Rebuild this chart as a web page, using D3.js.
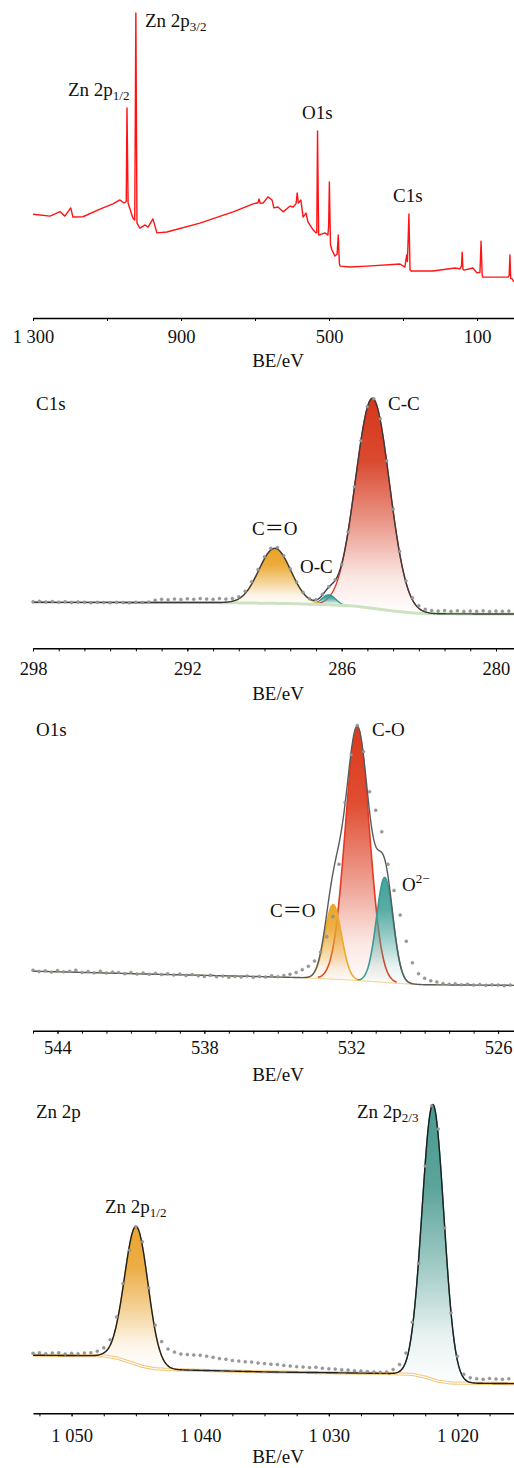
<!DOCTYPE html>
<html>
<head>
<meta charset="utf-8">
<script src="https://cdn.jsdelivr.net/npm/d3@7"></script>
<style>
  body { margin: 0; background: #fff; }
  svg { display: block; }
  text { font-family: "Liberation Serif", "Times New Roman", "Noto Sans CJK SC", serif; fill: #111; }
</style>
</head>
<body>
<div id="chart"></div>
<script>
// ---------- survey spectrum (BE in eV, intensity in a.u., 100 = tallest peak) ----------
const surveyBE = [1300, 1254, 1227, 1214, 1198, 1192, 1165, 1119, 1084, 1065, 1054, 1048, 1046, 1043,
  1030, 1025, 1022, 1019, 1011, 997, 989, 976, 965, 938, 849, 759, 705, 692, 689, 686, 678, 665, 654,
  649, 638, 624, 605, 597, 589, 586, 583, 576, 570, 562, 557, 543, 535, 533, 531, 528, 511, 503, 501,
  499, 496, 492, 484, 478, 475, 472, 470, 443, 397, 308, 295, 290, 288, 284, 281, 278, 219, 159, 146,
  142, 140, 138, 135, 111, 100, 92, 89, 86, 84, 24, 16, 13, 11, 9, 5, 0];
const surveyI = [34.0, 33.4, 34.9, 33.4, 36.1, 33.1, 33.2, 35.7, 37.4, 38.7, 37.7, 38.2, 68.9, 37.7,
  32.8, 32.1, 100, 31.1, 29.5, 30.5, 29.8, 32.5, 27.9, 28.2, 31.1, 34.8, 37.4, 37.8, 39.0, 37.6, 37.7, 39.7, 38.7,
  36.1, 36.4, 34.8, 36.7, 36.4, 37.5, 41.0, 37.7, 38.7, 33.1, 34.4, 31.5, 28.9, 27.9, 28.0, 61.3, 27.2, 27.9, 27.2, 30.0,
  44.6, 24.0, 22.3, 20.3, 21.0, 27.2, 18.0, 17.0, 16.7, 17.0, 17.7, 16.7, 20.7, 18.5, 34.1, 15.8, 15.4, 15.4, 16.4, 16.1,
  17.0, 21.6, 16.0, 15.7, 16.4, 14.8, 15.0, 25.2, 14.0, 13.4, 13.4, 13.4, 14.0, 20.7, 13.0, 12.8, 11.8];
const surveyTicks = [1300, 900, 500, 100];
const surveyMinor = [1300, 1100, 900, 700, 500, 300, 100];

// ---------- C1s ----------
const c1sStart = 298, c1sStep = 0.25;
const c1sData = [18.6, 18.8, 18.5, 18.7, 18.4, 18.6, 18.3, 18.5, 18.4, 18.2, 18.4, 18.3, 18.2, 18.4, 18.3,
  18.2, 18.4, 18.3, 18.5, 19.2, 19.6, 19.4, 19.7, 19.5, 19.8, 19.6, 19.9, 19.7, 19.6, 19.9, 19.7, 19.9,
  20.6, 22.8, 26.6, 31.5, 36.6, 40.0, 40.3, 37.0, 31.8, 26.5, 22.3, 19.8, 19.4, 21.6, 24.6, 27.4, 33.5,
  46.5, 64.6, 83.0, 96.6, 99.8, 91.8, 75.0, 55.6, 38.8, 27.0, 20.2, 17.0, 15.6, 15.1, 14.9, 15.1, 14.8,
  15.0, 14.7, 14.9, 14.8, 15.0, 14.7, 14.9, 14.8, 14.9];
const c1sBgBE = [298, 291, 288, 286.5, 285.5, 284.8, 284.0, 283.2, 282.5, 279.3];
const c1sBgI = [18.4, 18.3, 17.9, 17.4, 16.9, 16.0, 14.9, 14.1, 13.8, 13.7];
// fitted components: name, centre (eV), height above background, FWHM (eV)
const c1sNames = ["C-C", "O-C", "C\uFF1DO"];
const c1sCenter = [284.8, 286.5, 288.6];
const c1sHeight = [84.0, 4.0, 22.0];
const c1sFwhm = [1.55, 0.62, 1.45];
const c1sTicks = [298, 292, 286, 280];

// ---------- O1s ----------
const o1sStart = 545, o1sStep = 0.25;
const o1sData = [19.6, 19.2, 19.4, 19.0, 19.5, 19.1, 19.3, 19.6, 18.9, 19.2, 18.8, 19.3, 18.7, 19.0, 18.9,
  18.5, 18.9, 18.4, 18.7, 18.3, 18.6, 18.2, 18.5, 18.1, 18.4, 17.9, 18.2, 17.8, 17.6, 18.0, 17.5, 17.7,
  17.3, 17.6, 17.4, 17.7, 17.3, 17.6, 17.4, 17.8, 17.5, 17.9, 18.3, 18.9, 19.8, 20.9, 22.6, 25.5, 30.5,
  37.0, 54.0, 74.0, 89.5, 99.0, 90.5, 77.5, 71.5, 64.5, 54.0, 45.5, 37.5, 29.0, 22.0, 18.5, 17.0, 16.2,
  15.8, 15.3, 15.1, 15.2, 14.9, 15.1, 14.8, 15.0, 14.7, 14.9, 14.8, 14.6, 14.8];
const o1sBgBE = [545, 540, 536, 534, 532, 530, 529, 525.35];
const o1sBgI = [19.3, 18.3, 17.6, 17.2, 16.4, 15.3, 14.9, 14.7];
const o1sNames = ["C-O", "C\uFF1DO", "O"];
const o1sCenter = [531.75, 532.74, 530.63];
const o1sHeight = [82.0, 24.2, 34.0];
const o1sFwhm = [1.15, 0.8, 0.8];
const o1sTicks = [544, 538, 532, 526];

// ---------- Zn 2p ----------
const znStart = 1053, znStep = 0.5;
const znData = [19.4, 19.6, 19.3, 19.5, 19.6, 19.2, 19.4, 19.3, 19.5, 19.6, 20.1, 21.2, 23.8, 31.2, 42.0,
  52.8, 60.4, 55.5, 40.6, 28.5, 23.2, 20.8, 19.8, 19.2, 19.0, 18.9, 18.8, 18.5, 18.1, 17.7, 17.5, 17.1,
  16.9, 16.7, 16.6, 16.3, 16.1, 15.9, 15.8, 15.5, 15.3, 15.1, 15.0, 14.8, 14.9, 14.6, 14.4, 14.3, 14.1,
  14.0, 13.8, 13.7, 13.5, 13.4, 13.3, 13.4, 14.2, 15.8, 19.5, 29.5, 48.5, 80.0, 99.5, 92.0, 60.0, 32.5,
  18.5, 12.6, 11.5, 11.2, 11.0, 11.3, 11.1, 11.0, 11.2];
const znBgBE = [1053, 1047.5, 1046.5, 1045.5, 1044.5, 1043.5, 1042, 1035, 1025.5, 1023.5, 1022.5, 1021.5, 1020.5, 1015.6];
const znBgI = [18.8, 18.6, 17.9, 16.6, 15.2, 14.4, 14.1, 13.4, 12.9, 12.6, 11.7, 10.4, 9.8, 9.6];
const znNames = ["Zn 2p", "Zn 2p"];
const znCenter = [1021.9, 1044.97];
const znHeight = [89.0, 44.6];
const znFwhm = [2.0, 2.15];
const znTicks = [1050, 1040, 1030, 1020];

// ---------- setup ----------
const W = 514, H = 1468;
const svg = d3.select("#chart").append("svg").attr("width", W).attr("height", H);
const defs = svg.append("defs");
const left = 33, right = 514;

function gauss(E, c, h, fwhm) {
  const s = fwhm / 2.3548;
  return h * Math.exp(-((E - c) * (E - c)) / (2 * s * s));
}

// thousands written with a space, as in the figure ("1 050")
function fmtBE(v) {
  const s = String(v);
  return s.length > 3 ? s.slice(0, s.length - 3) + " " + s.slice(-3) : s;
}

function drawAxis(g, x, axisY, major, minor, pad, labelY) {
  g.append("g")
    .attr("transform", "translate(0," + axisY + ")")
    .call(d3.axisBottom(x).tickValues(minor).tickSize(3).tickSizeOuter(0).tickFormat(""))
    .call(a => a.select(".domain").attr("stroke-width", 1.4));
  const ax = g.append("g")
    .attr("transform", "translate(0," + axisY + ")")
    .call(d3.axisBottom(x).tickValues(major).tickSize(3).tickSizeOuter(0).tickPadding(pad).tickFormat(fmtBE));
  ax.select(".domain").remove();
  ax.selectAll("text").style("font-size", "18.5px").style("font-family", "Liberation Serif").attr("fill", "#111");
  g.append("text").attr("x", 278).attr("y", labelY).attr("text-anchor", "middle")
    .style("font-size", "19px").text("BE/eV");
}

function addLabel(g, px, py, main, sub, sup) {
  const t = g.append("text").attr("x", px).attr("y", py).style("font-size", "19px");
  t.append("tspan").text(main);
  if (sub) t.append("tspan").attr("dy", 4).style("font-size", "13px").text(sub);
  if (sup) t.append("tspan").attr("dy", -8).style("font-size", "13px").text(sup);
}

// ---------- panel 1: survey ----------
{
  const g = svg.append("g");
  const x = d3.scaleLinear().domain([1300, 0]).range([left, right]);
  const y = d3.scaleLinear().domain([0, 100]).range([318, 13]);
  g.append("path")
    .datum(d3.zip(surveyBE, surveyI))
    .attr("fill", "none")
    .attr("stroke", "#ff1414")
    .attr("stroke-width", 1.4)
    .attr("stroke-linejoin", "round")
    .attr("d", d3.line().x(d => x(d[0])).y(d => y(d[1])));
  drawAxis(g, x, 318, surveyTicks, surveyMinor, 9, 367);
  addLabel(g, 145, 27, "Zn 2p", "3/2");
  addLabel(g, 68, 96, "Zn 2p", "1/2");
  addLabel(g, 302, 119, "O1s");
  addLabel(g, 393, 202, "C1s");
}

// ---------- fitted panels ----------
function drawFit(p) {
  const g = svg.append("g");
  const x = d3.scaleLinear().domain(p.domain).range([left, right]);
  const y = d3.scaleLinear().domain([0, 100]).range([p.axisY, p.topY]);
  const bg = d3.scaleLinear().domain(p.bgBE).range(p.bgI).clamp(true);
  const lo = Math.min(p.domain[0], p.domain[1]), hi = Math.max(p.domain[0], p.domain[1]);
  const grid = d3.range(hi, lo, -p.step).concat([lo]);

  // component fills and outlines
  p.center.forEach((c, i) => {
    const s = p.fwhm[i] / 2.3548;
    const sub = grid.filter(E => Math.abs(E - c) < 4 * s);
    const id = p.id + "-grad-" + i;
    const gr = defs.append("linearGradient").attr("id", id)
      .attr("gradientUnits", "userSpaceOnUse")
      .attr("x1", 0).attr("x2", 0)
      .attr("y1", y(bg(c) + p.height[i])).attr("y2", y(bg(c)));
    [[0, 1], [0.3, 0.9], [0.6, 0.5], [0.85, 0.12], [1, 0.02]].forEach(st => {
      gr.append("stop").attr("offset", st[0]).attr("stop-color", p.fill[i]).attr("stop-opacity", st[1]);
    });
    g.append("path").datum(sub)
      .attr("fill", "url(#" + id + ")")
      .attr("d", d3.area().x(E => x(E)).y0(E => y(bg(E))).y1(E => y(bg(E) + gauss(E, c, p.height[i], p.fwhm[i]))));
    g.append("path").datum(sub.filter(E => Math.abs(E - c) < 3.3 * s))
      .attr("fill", "none").attr("stroke", p.line[i]).attr("stroke-width", p.lineW)
      .attr("d", d3.line().x(E => x(E)).y(E => y(bg(E) + gauss(E, c, p.height[i], p.fwhm[i]))));
  });

  // background
  const bgLine = d3.line().x(E => x(E)).y(E => y(bg(E)));
  p.bgStyle.forEach(st => {
    g.append("path").datum(grid).attr("fill", "none")
      .attr("stroke", st[0]).attr("stroke-width", st[1]).attr("d", bgLine);
  });

  // envelope = background + sum of components
  const env = E => bg(E) + d3.sum(p.center, (c, i) => gauss(E, c, p.height[i], p.fwhm[i]));
  g.append("path").datum(grid).attr("fill", "none")
    .attr("stroke", p.envColor).attr("stroke-width", 1.4).attr("stroke-linejoin", "round")
    .attr("d", d3.line().x(E => x(E)).y(E => y(env(E))));

  // measured points
  g.append("g").selectAll("circle")
    .data(p.data.map((v, i) => [p.start - i * p.dataStep, v]))
    .join("circle")
    .attr("cx", d => x(d[0])).attr("cy", d => y(d[1])).attr("r", 1.5)
    .attr("fill", "#9a9a9a").attr("stroke", "#7c7c7c").attr("stroke-width", 0.4);

  drawAxis(g, x, p.axisY, p.ticks, p.minor, p.pad, p.labelY);
  return g;
}

const gC = drawFit({
  id: "c1s", domain: [298, 279.3], axisY: 648.3, topY: 398.3, step: 0.02,
  start: c1sStart, dataStep: c1sStep, data: c1sData, bgBE: c1sBgBE, bgI: c1sBgI,
  center: c1sCenter, height: c1sHeight, fwhm: c1sFwhm,
  fill: ["#d6361a", "#3a9e96", "#e9a326"], line: ["#e2321f", "#2d938b", "#e6b03a"], lineW: 1.3,
  bgStyle: [["#cde2c2", 3]], envColor: "#3a3a3a",
  ticks: c1sTicks, minor: d3.range(298, 279, -1), pad: 10.5, labelY: 700
});
addLabel(gC, 36, 410, "C1s");
addLabel(gC, 388, 410, c1sNames[0]);
addLabel(gC, 300, 573, c1sNames[1]);
addLabel(gC, 252, 535, c1sNames[2]);

const gO = drawFit({
  id: "o1s", domain: [545, 525.35], axisY: 1030.7, topY: 722.3, step: 0.02,
  start: o1sStart, dataStep: o1sStep, data: o1sData, bgBE: o1sBgBE, bgI: o1sBgI,
  center: o1sCenter, height: o1sHeight, fwhm: o1sFwhm,
  fill: ["#dc3a1c", "#eaa62c", "#45a39b"], line: ["#e23b22", "#e9ac2f", "#3a9a94"], lineW: 1.6,
  bgStyle: [["#f0c468", 0.9]], envColor: "#5a5a5a",
  ticks: o1sTicks, minor: d3.range(545, 525, -1), pad: 7.5, labelY: 1081
});
addLabel(gO, 36, 736, "O1s");
addLabel(gO, 372, 736, o1sNames[0]);
addLabel(gO, 270, 917, o1sNames[1]);
addLabel(gO, 402, 891, o1sNames[2], null, "2\u2212");

const gZ = drawFit({
  id: "zn", domain: [1053, 1015.6], axisY: 1413.3, topY: 1104.3, step: 0.05,
  start: znStart, dataStep: znStep, data: znData, bgBE: znBgBE, bgI: znBgI,
  center: znCenter, height: znHeight, fwhm: znFwhm,
  fill: ["#4a9a90", "#eaa532"], line: ["#2f8a80", "#e7a22c"], lineW: 1.3,
  bgStyle: [["#f2c77a", 3.2], ["#ffffff", 1.1]], envColor: "#1f1f1f",
  ticks: znTicks, minor: d3.range(1052.5, 1015, -2.5), pad: 12.5, labelY: 1463
});
addLabel(gZ, 36, 1118, "Zn 2p");
addLabel(gZ, 357, 1118, znNames[0], "2/3");
addLabel(gZ, 105, 1213, znNames[1], "1/2");
</script>
</body>
</html>
